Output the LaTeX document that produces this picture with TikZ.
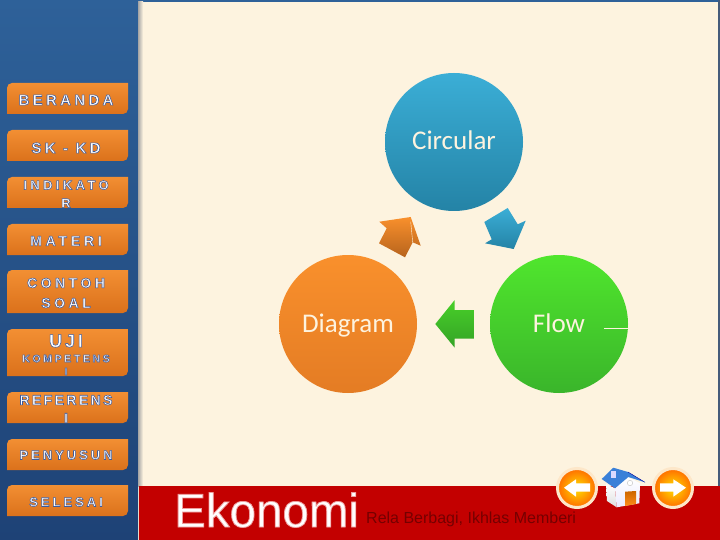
\documentclass[tikz,border=0pt]{standalone}
\usepackage{xcolor}
\usepackage{fontspec}
\setmainfont{Liberation Sans}
\newfontfamily\carlito{Carlito}
\usetikzlibrary{calc}
\definecolor{paper}{HTML}{FDF3DF}
\definecolor{panelTop}{HTML}{2E6199}
\definecolor{panelBot}{HTML}{1E4276}
\definecolor{band}{HTML}{C30000}
\definecolor{menuTop}{HTML}{F28F33}
\definecolor{menuBot}{HTML}{DB711B}
\definecolor{blueTop}{HTML}{3BAED6}
\definecolor{blueBot}{HTML}{2483A6}
\definecolor{orangeTop}{HTML}{F9902C}
\definecolor{orangeBot}{HTML}{E47C24}
\definecolor{greenTop}{HTML}{50E62D}
\definecolor{greenBot}{HTML}{3AB52B}
\definecolor{roofBlue}{HTML}{3A80D8}
% stroked letters, white inside
\newcommand{\edged}[1]{\special{pdf:code q 2 Tr 0.55 w 0.24 0.36 0.62 RG}#1\special{pdf:code Q}}
\newcommand{\halo}[1]{\special{pdf:code q 2 Tr 0.8 w 0.93 0.62 0.62 RG}#1\special{pdf:code Q}}
% one menu button, top and bottom given
\newcommand{\menubox}[2]{%
  \path[top color=menuTop,bottom color=menuBot]
    (7,#2) [rounded corners=5pt] -- (7,#1) [sharp corners] -- (128,#1)
    [rounded corners=5pt] -- (128,#2) [sharp corners] -- cycle;}
\begin{document}
\begin{tikzpicture}[x=1pt,y=-1pt]
  \tikzstyle{menu} = [text=white,align=center,inner sep=0pt,font=\bfseries\fontsize{15}{19}\selectfont\addfontfeatures{LetterSpace=22}]
  \tikzstyle{topic} = [shape=circle,minimum size=138pt,inner sep=0pt,text height=20pt,text depth=4pt,text=paper,font=\carlito\fontsize{27}{30}\selectfont]
  \tikzstyle{nav} = [shape=circle,minimum size=39pt,inner sep=0pt,line width=3pt,draw=paper!90!orange,inner color=yellow!75!orange,outer color=orange!85!red]
  \useasboundingbox (0,0) rectangle (720,540);
  % Background.
  \fill[paper] (0,0) rectangle (720,540);
  \shade[top color=panelTop,bottom color=panelBot] (0,0) rectangle (138,540);
  \fill[panelTop] (138,0) rectangle (720,2);
  \fill[panelBot!60!gray] (718,0) rectangle (720,486);
  \shade[left color=gray!70,right color=paper] (138,2) rectangle (143,486);
  \fill[band] (139,486) rectangle (720,540);
  % Menu.
  \menubox{83}{114}
  \menubox{130}{161}
  \menubox{177}{208}
  \menubox{224}{255}
  \menubox{270}{313}
  \menubox{329}{376}
  \menubox{392}{423}
  \menubox{439}{470}
  \menubox{485}{516}
  \node[menu] (beranda) at (66,100) {\edged{BERANDA}};
  \node[menu] (sk) at (66,148) {\edged{SK - KD}};
  \node[menu,font=\bfseries\fontsize{13}{18}\selectfont\addfontfeatures{LetterSpace=26}] (indikator) at (66,194) {\edged{INDIKATO\\R}};
  \node[menu,font=\bfseries\fontsize{14}{18}\selectfont\addfontfeatures{LetterSpace=27}] (materi) at (66,241) {\edged{MATERI}};
  \node[menu,font=\bfseries\fontsize{14}{20}\selectfont\addfontfeatures{LetterSpace=25}] (contoh) at (66,293) {\edged{CONTOH\\SOAL}};
  \node[menu,font=\bfseries\fontsize{18}{20}\selectfont\addfontfeatures{LetterSpace=16}] (uji) at (66,341) {\edged{UJI}};
  \node[menu,font=\bfseries\fontsize{10.5}{13}\selectfont\addfontfeatures{LetterSpace=25}] (kompetensi) at (66,365) {\edged{KOMPETENS\\I}};
  \node[menu,font=\bfseries\fontsize{14}{18}\selectfont\addfontfeatures{LetterSpace=17}] (referensi) at (66,409) {\edged{REFERENS\\I}};
  \node[menu,font=\bfseries\fontsize{13}{18}\selectfont\addfontfeatures{LetterSpace=23}] (penyusun) at (66,455) {\edged{PENYUSUN}};
  \node[menu,font=\bfseries\fontsize{13}{18}\selectfont\addfontfeatures{LetterSpace=23}] (selesai) at (66,502) {\edged{SELESAI}};
  % Three circles.
  \node[topic,top color=blueTop,bottom color=blueBot] (circular) at (454,142) {Circular};
  \node[topic,top color=orangeTop,bottom color=orangeBot] (diagram) at (348,324) {Diagram};
  \node[topic,top color=greenTop,bottom color=greenBot] (flow) at (559,324) {Flow};
  \coordinate (flowend) at (604,328);
  \draw[paper,thin] (flowend) -- (flowend -| flow.east);
  % Block arrows between them.
  \shade[top color=blueTop,bottom color=blueBot]
    (507.7,208) -- (517.7,224.3) -- (525.7,220.7) -- (513.7,249) -- (485,243.3) -- (491.7,239.3) -- (484.3,222) -- cycle;
  \shade[top color=orangeTop,bottom color=orangeBot!80!black]
    (379.3,221.7) -- (410.7,217) -- (420.7,245.7) -- (412.7,242.3) -- (405,257.3) -- (379,243.3) -- (386.7,228.3) -- cycle;
  \draw[paper] (410.7,221.7) -- (412.7,242.3);
  \shade[top color=greenTop!90!black,bottom color=greenBot!90!black]
    (435.3,324) -- (454.7,300) -- (454.7,310) -- (474,310) -- (474,338.7) -- (454.7,338.7) -- (454.7,347.7) -- cycle;
  % Footer.
  \node[anchor=base west,inner sep=0pt,text=white,font=\fontsize{47.5}{50}\selectfont] (ekonomi) at (174,527) {\halo{Ekonomi}};
  \node[anchor=base west,inner sep=0pt,text=band!60!black,font=\fontsize{16}{18}\selectfont] (motto) at (366,523) {Rela Berbagi, Ikhlas Memberi};
  % Navigation.
  \node[nav] (back) at (577,488) {};
  \fill[white] (564,487.7) -- (576,479.3) -- (576,483.3) -- (590,483.3) -- (590,491.7) -- (576,491.7) -- (576,496.7) -- cycle;
  \node[nav] (next) at (673,488) {};
  \fill[white] (660,483.3) -- (673.3,483.3) -- (673.3,479.3) -- (686,487.7) -- (673.3,496.7) -- (673.3,491.7) -- (660,491.7) -- cycle;
  % House.
  \shade[top color=white,bottom color=gray!25] (606,484) -- (615,488.3) -- (616.7,507.3) -- (607,501) -- cycle;
  \shade[top color=white,bottom color=blue!8] (615,488.3) -- (628.3,477) -- (640,483.3) -- (639.3,503.3) -- (616.7,507.3) -- cycle;
  \shade[top color=orange!80!black,bottom color=orange!90!white] (625,491.7) -- (636,491) -- (636,504) -- (625,506) -- cycle;
  \fill[roofBlue] (601.7,479) -- (613.3,467.7) -- (628,472) -- (645,482.3) -- (628.3,477) -- (615,488.3) -- cycle;
  \draw[blue!60!black] (628,472) -- (645,482.3);
  \fill[white!85!blue] (611,470.5) rectangle (616,478);
  \draw[gray!50,fill=white] (630,483) circle (2.7pt);
\end{tikzpicture}
\end{document}
